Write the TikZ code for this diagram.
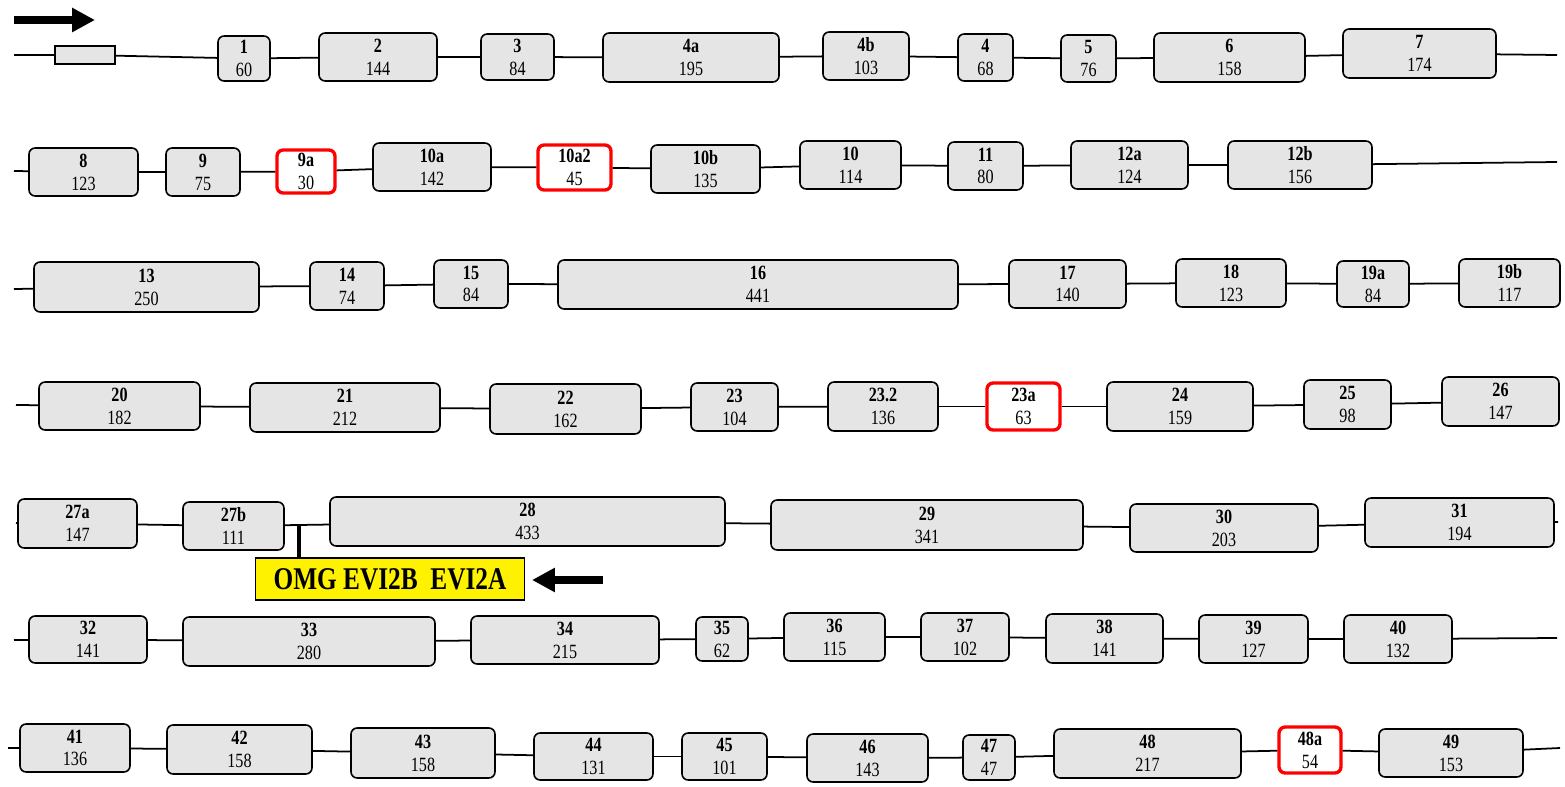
\documentclass[tikz,border=0pt]{standalone}
\usepackage{fontspec}
\setmainfont{Liberation Serif}[FakeStretch=0.8]
\usetikzlibrary{arrows.meta}

\begin{document}
\begin{tikzpicture}[
    x=0.02cm, y=-0.02cm,
    exon/.style={draw, line width=0.9pt, rounded corners=3.5pt, fill=black!10,
        align=center, inner sep=0pt, font=\fontsize{11.5}{13}\selectfont},
    novel/.style={exon, draw=red, line width=1.9pt, fill=white},
    utr/.style={draw, line width=0.9pt, fill=black!10, inner sep=0pt,
        minimum width=1.2cm, minimum height=0.36cm},
    intron/.style={line width=1pt},
    bigarr/.style={line width=4.5pt, -{Triangle[length=13pt, width=13pt]}},
    omgbox/.style={draw, line width=0.9pt, fill=yellow, inner sep=0pt,
        minimum width=5.38cm, minimum height=0.84cm, font=\fontsize{18}{20}\selectfont\bfseries}
]
\useasboundingbox (0,0) rectangle (1565,787);

% exons: name / x1 / y1 / x2 / y2 / label / length / style
\foreach \n/\xa/\ya/\xb/\yb/\l/\m/\s in {
    e1/218/36/270/81/1/60/exon, e2/319/33/437/81/2/144/exon,
    e3/481/34/554/80/3/84/exon, e4a/603/33/779/82/4a/195/exon,
    e4b/823/32/909/80/4b/103/exon, e4/958/34/1013/81/4/68/exon,
    e5/1061/35/1116/82/5/76/exon, e6/1154/33/1305/82/6/158/exon,
    e7/1343/29/1496/78/7/174/exon,
    e8/29/148/138/196/8/123/exon, e9/166/148/240/196/9/75/exon,
    e9a/277/150/335/193/9a/30/novel, e10a/373/143/491/191/10a/142/exon,
    e10aa/538/145/611/190/10a2/45/novel, e10b/651/145/760/193/10b/135/exon,
    e10/800/141/901/189/10/114/exon, e11/948/142/1023/190/11/80/exon,
    e12a/1071/141/1188/189/12a/124/exon, e12b/1228/141/1372/189/12b/156/exon,
    e13/34/262/259/312/13/250/exon, e14/310/262/384/310/14/74/exon,
    e15/434/260/508/308/15/84/exon, e16/558/260/958/309/16/441/exon,
    e17/1009/260/1126/308/17/140/exon, e18/1176/259/1286/307/18/123/exon,
    e19a/1337/261/1409/307/19a/84/exon, e19b/1459/259/1560/307/19b/117/exon,
    e20/39/382/200/430/20/182/exon, e21/250/383/440/432/21/212/exon,
    e22/490/384/641/434/22/162/exon, e23/691/383/778/431/23/104/exon,
    e23b/828/382/938/431/23.2/136/exon, e23a/987/383/1060/430/23a/63/novel,
    e24/1107/382/1253/431/24/159/exon, e25/1304/380/1391/429/25/98/exon,
    e26/1442/377/1559/426/26/147/exon,
    e27a/18/499/137/548/27a/147/exon, e27b/183/502/284/550/27b/111/exon,
    e28/330/497/725/546/28/433/exon, e29/771/500/1083/550/29/341/exon,
    e30/1130/504/1318/552/30/203/exon, e31/1365/498/1554/547/31/194/exon,
    e32/29/616/147/663/32/141/exon, e33/183/617/435/666/33/280/exon,
    e34/471/616/659/664/34/215/exon, e35/696/617/748/661/35/62/exon,
    e36/784/613/885/661/36/115/exon, e37/921/613/1009/661/37/102/exon,
    e38/1046/614/1163/663/38/141/exon, e39/1199/615/1308/663/39/127/exon,
    e40/1344/615/1452/663/40/132/exon,
    e41/20/724/130/772/41/136/exon, e42/167/725/312/774/42/158/exon,
    e43/351/728/495/778/43/158/exon, e44/534/733/653/780/44/131/exon,
    e45/682/733/767/780/45/101/exon, e46/807/734/928/782/46/143/exon,
    e47/963/735/1015/780/47/47/exon, e48/1054/729/1241/778/48/217/exon,
    e48a/1279/727/1341/773/48a/54/novel, e49/1379/729/1523/777/49/153/exon}
  \node[\s, minimum width={(\xb-\xa)*0.02cm}, minimum height={(\yb-\ya)*0.02cm}]
    (\n) at ({(\xa+\xb)/2},{(\ya+\yb)/2}) {\textbf{\l}\\\m};

\node[utr] (utr) at (85,55) {};

% line ends of each row
\coordinate (r1s) at (14,55);   \coordinate (r1e) at (1557,55);
\coordinate (r2s) at (14,171);  \coordinate (r2e) at (1557,162);
\coordinate (r3s) at (14,289);
\coordinate (r4s) at (16,405);
\coordinate (r5s) at (16,523);  \coordinate (r5e) at (1558,522);
\coordinate (r6s) at (14,640);  \coordinate (r6e) at (1557,638);
\coordinate (r7s) at (8,748);   \coordinate (r7e) at (1560,748);

\foreach \a/\b in {r1s/utr, utr/e1, e1/e2, e2/e3, e3/e4a, e4a/e4b, e4b/e4, e4/e5,
    e5/e6, e6/e7, e7/r1e,
    r2s/e8, e8/e9, e9/e9a, e9a/e10a, e10a/e10aa, e10aa/e10b, e10b/e10, e10/e11,
    e11/e12a, e12a/e12b, e12b/r2e,
    r3s/e13, e13/e14, e14/e15, e15/e16, e16/e17, e17/e18, e18/e19a, e19a/e19b,
    r4s/e20, e20/e21, e21/e22, e22/e23, e23/e23b, e23b/e23a, e23a/e24, e24/e25,
    e25/e26,
    r5s/e27a, e27a/e27b, e27b/e28, e28/e29, e29/e30, e30/e31, e31/r5e,
    r6s/e32, e32/e33, e33/e34, e34/e35, e35/e36, e36/e37, e37/e38, e38/e39,
    e39/e40, e40/r6e,
    r7s/e41, e41/e42, e42/e43, e43/e44, e44/e45, e45/e46, e46/e47, e47/e48,
    e48/e48a, e48a/e49, e49/r7e}
  \draw[intron] (\a) -- (\b);

% direction of transcription
\coordinate (fwds) at (14,20);
\coordinate (fwde) at (95,20);
\draw[bigarr] (fwds) -- (fwde);

% genes nested in the intron
\node[omgbox] (omg) at (390,579) {OMG EVI2B\ \ EVI2A};
\coordinate (tap) at (299,525);
\draw[line width=1.8pt] (tap) -- (tap |- omg.north);
\coordinate (revs) at (603,580);
\coordinate (reve) at (532,580);
\draw[bigarr] (revs) -- (reve);

\end{tikzpicture}
\end{document}
